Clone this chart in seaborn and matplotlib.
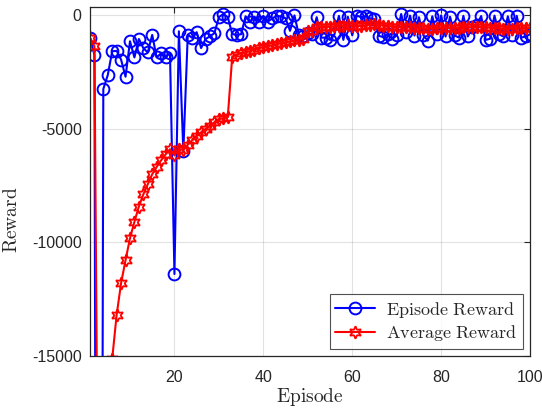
import numpy as np
import pandas as pd
import matplotlib
matplotlib.use('Agg')
import matplotlib.pyplot as plt
import seaborn as sns

# Episode numbers
episodes = list(range(1, 101))

# Episode reward (blue circles)
ep_reward = [
    -1000, -1760, -80550, -3260, -2650, -1600, -1580, -1970, -2720, -1160,
    -1870, -1060, -1460, -1650, -880, -1870, -1690, -1870, -1680, -11400,
    -720, -6000, -870, -1010, -760, -1460, -1060, -940, -800, -100,
    40, -100, -840, -880, -850, -60, -330, -80, -300, -40,
    -300, -150, -50, -60, -150, -700, -20, -900, -950, -800,
    -850, -100, -1000, -1000, -1100, -850, -40, -1100, -80, -900,
    -30, -100, -60, -150, -200, -920, -980, -850, -1060, -900,
    40, -750, -30, -910, -100, -900, -1130, -60, -850, -20,
    -950, -80, -900, -1000, -40, -950, -550, -450, -50, -1100,
    -1050, -30, -850, -950, -60, -900, -40, -1000, -950, -850,
]

# Average reward (red hexagrams)
avg_reward = [
    -1000, -1380, -27770, -21640, -17840, -15130, -13200, -11800, -10790, -9830,
    -9100, -8430, -7900, -7450, -7010, -6690, -6400, -6140, -5910, -6180,
    -5920, -5930, -5710, -5510, -5320, -5170, -5020, -4880, -4730, -4580,
    -4550, -4490, -1830, -1750, -1690, -1640, -1600, -1540, -1460, -1420,
    -1370, -1340, -1290, -1240, -1210, -1170, -1120, -1090, -1060, -710,
    -710, -520, -520, -520, -530, -510, -480, -480, -460, -480,
    -490, -490, -460, -440, -420, -440, -470, -490, -520, -550,
    -530, -550, -550, -580, -580, -590, -620, -600, -590, -570,
    -570, -570, -570, -570, -530, -530, -550, -530, -530, -530,
    -570, -570, -590, -620, -610, -610, -580, -590, -580, -580,
]

x_ticks = [20, 40, 60, 80, 100]
y_ticks = [-15000, -10000, -5000, 0]

sns.set_style('white')
plt.rcParams['font.family'] = ['Liberation Sans', 'DejaVu Sans']
plt.rcParams['mathtext.fontset'] = 'cm'
plt.rcParams['axes.unicode_minus'] = False

df = pd.DataFrame({'Episode': episodes, 'EpisodeReward': ep_reward, 'AverageReward': avg_reward})

fig = plt.figure(figsize=(5.42, 4.09), dpi=100)
ax = fig.add_axes([0.166, 0.13, 0.812, 0.853])

sns.lineplot(data=df, x='Episode', y='EpisodeReward', ax=ax, color='blue',
             marker='o', markersize=8.5, markerfacecolor='none', markeredgecolor='blue',
             markeredgewidth=1.4, linewidth=1.5, label=r'$\mathrm{Episode\ Reward}$')
sns.lineplot(data=df, x='Episode', y='AverageReward', ax=ax, color='red',
             marker=(6, 1, 0), markersize=9, markerfacecolor='none', markeredgecolor='red',
             markeredgewidth=1.3, linewidth=1.5, label=r'$\mathrm{Average\ Reward}$')

ax.set_xlim(1, 100)
ax.set_ylim(-15000, 350)
ax.set_xticks(x_ticks)
ax.set_yticks(y_ticks)
ax.tick_params(direction='in', length=4, width=0.8, colors='#262626', labelsize=11.5,
               top=True, right=True)
ax.tick_params(axis='x', pad=10)
ax.tick_params(axis='y', pad=6)
ax.grid(True, color='#262626', alpha=0.13, linewidth=0.8)
for s in ax.spines.values():
    s.set_color('#262626')
    s.set_linewidth(0.9)

ax.set_xlabel(r'$\mathrm{Episode}$', fontsize=14, labelpad=1)
ax.set_ylabel(r'$\mathrm{Reward}$', fontsize=14)
ax.yaxis.set_label_coords(-0.157, 0.39)

leg = ax.legend(loc='lower right', fontsize=13, frameon=True, fancybox=False,
                borderaxespad=0.4, handlelength=2.2, borderpad=0.3, labelspacing=0.2,
                handletextpad=0.6)
leg.get_frame().set_edgecolor('#262626')
leg.get_frame().set_linewidth(0.8)

plt.savefig('out.png', dpi=100)
plt.close()
